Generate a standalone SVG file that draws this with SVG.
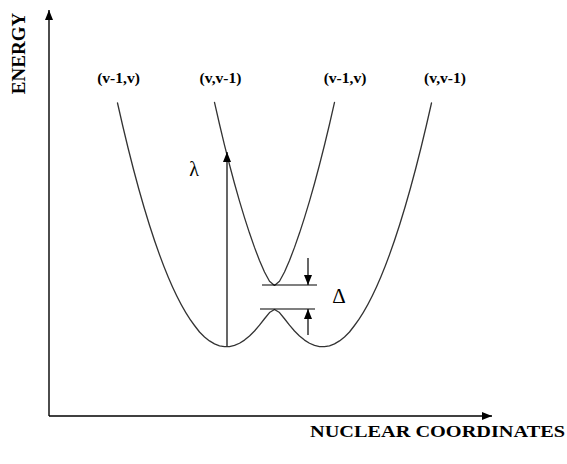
<svg xmlns="http://www.w3.org/2000/svg" width="567" height="464" viewBox="0 0 567 464">
<style>
.t{font-family:"Liberation Serif","Times New Roman",serif;fill:#000}
.b{font-weight:bold}
.curve{fill:none;stroke:#333;stroke-width:1.3;stroke-linejoin:round;stroke-linecap:round}
.ax{stroke:#000;stroke-width:1.4;fill:none}
.ar{stroke:#000;stroke-width:1.2;fill:none}
.lv{stroke:#000;stroke-width:1.2}
</style>
<defs>
<marker id="ah" markerWidth="10" markerHeight="8" refX="10" refY="4" orient="auto" markerUnits="userSpaceOnUse">
<path d="M0,0 L10,4 L0,8 Z" fill="#000"/>
</marker>
</defs>
<rect width="567" height="464" fill="#fff"/>
<g id="axes">
<line class="ax" x1="49" y1="416" x2="49" y2="10" marker-end="url(#ah)"/>
<line class="ax" x1="49" y1="416" x2="492" y2="416" marker-end="url(#ah)"/>
<text class="t b" font-size="19" text-anchor="middle" transform="translate(25,53.5) rotate(-90)">ENERGY</text>
<text class="t b" font-size="16.5" x="310" y="437" textLength="255" lengthAdjust="spacingAndGlyphs">NUCLEAR COORDINATES</text>
</g>
<g id="lower-surface">
<path class="curve" d="M117.5,103 Q156,275.44 194.5,325.52 L199.5,331.98 L204.5,336.96 L209.5,340.93 L214.5,343.87 L219.5,345.77 L224.5,346.67 L229.5,346.53 L234.5,345.4 L239.5,343.26 L244.5,340.12 L249.5,336.02 L254.5,330.99 L259.5,325.15 L264.5,318.73 L269.5,312.56 L274.5,309.45 L279.5,312.56 L284.5,318.73 L289.5,325.15 L294.5,330.99 L299.5,336.02 L304.5,340.12 L309.5,343.26 L314.5,345.4 L319.5,346.53 L324.5,346.67 L329.5,345.77 L334.5,343.87 L339.5,340.93 L344.5,336.96 L349.5,331.98 L354.5,325.52 Q393,275.44 431.5,103"/>
</g>
<g id="upper-surface">
<path class="curve" d="M214.5,102.43 L219.5,124.25 L224.5,145.03 L229.5,164.77 L234.5,183.46 L239.5,201.08 L244.5,217.62 L249.5,233.08 L254.5,247.39 L259.5,260.47 L264.5,272.05 L269.5,281.3 L274.5,285.45 L279.5,281.3 L284.5,272.05 L289.5,260.47 L294.5,247.39 L299.5,233.08 L304.5,217.62 L309.5,201.08 L314.5,183.46 L319.5,164.77 L324.5,145.03 L329.5,124.25 L334.5,102.43"/>
</g>
<g id="labels">
<text class="t b" font-size="15.5" x="118.5" y="83" text-anchor="middle">(v-1,v)</text>
<text class="t b" font-size="15.5" x="220.5" y="83" text-anchor="middle">(v,v-1)</text>
<text class="t b" font-size="15.5" x="345" y="83" text-anchor="middle">(v-1,v)</text>
<text class="t b" font-size="15.5" x="445" y="83" text-anchor="middle">(v,v-1)</text>
</g>
<g id="lambda">
<text class="t" font-size="20" x="194" y="176" text-anchor="middle">λ</text>
</g>
<g id="delta">
<line class="lv" x1="262" y1="285" x2="317" y2="285"/>
<line class="lv" x1="260" y1="309" x2="315" y2="309"/>
<text class="t" font-size="21" x="339" y="303" text-anchor="middle">Δ</text>
</g>
<g id="connectors">
<line class="ar" x1="227" y1="346" x2="227" y2="152" marker-end="url(#ah)"/>
<line class="ar" x1="308" y1="258" x2="308" y2="285" marker-end="url(#ah)"/>
<line class="ar" x1="308" y1="335" x2="308" y2="309" marker-end="url(#ah)"/>
</g>
</svg>
